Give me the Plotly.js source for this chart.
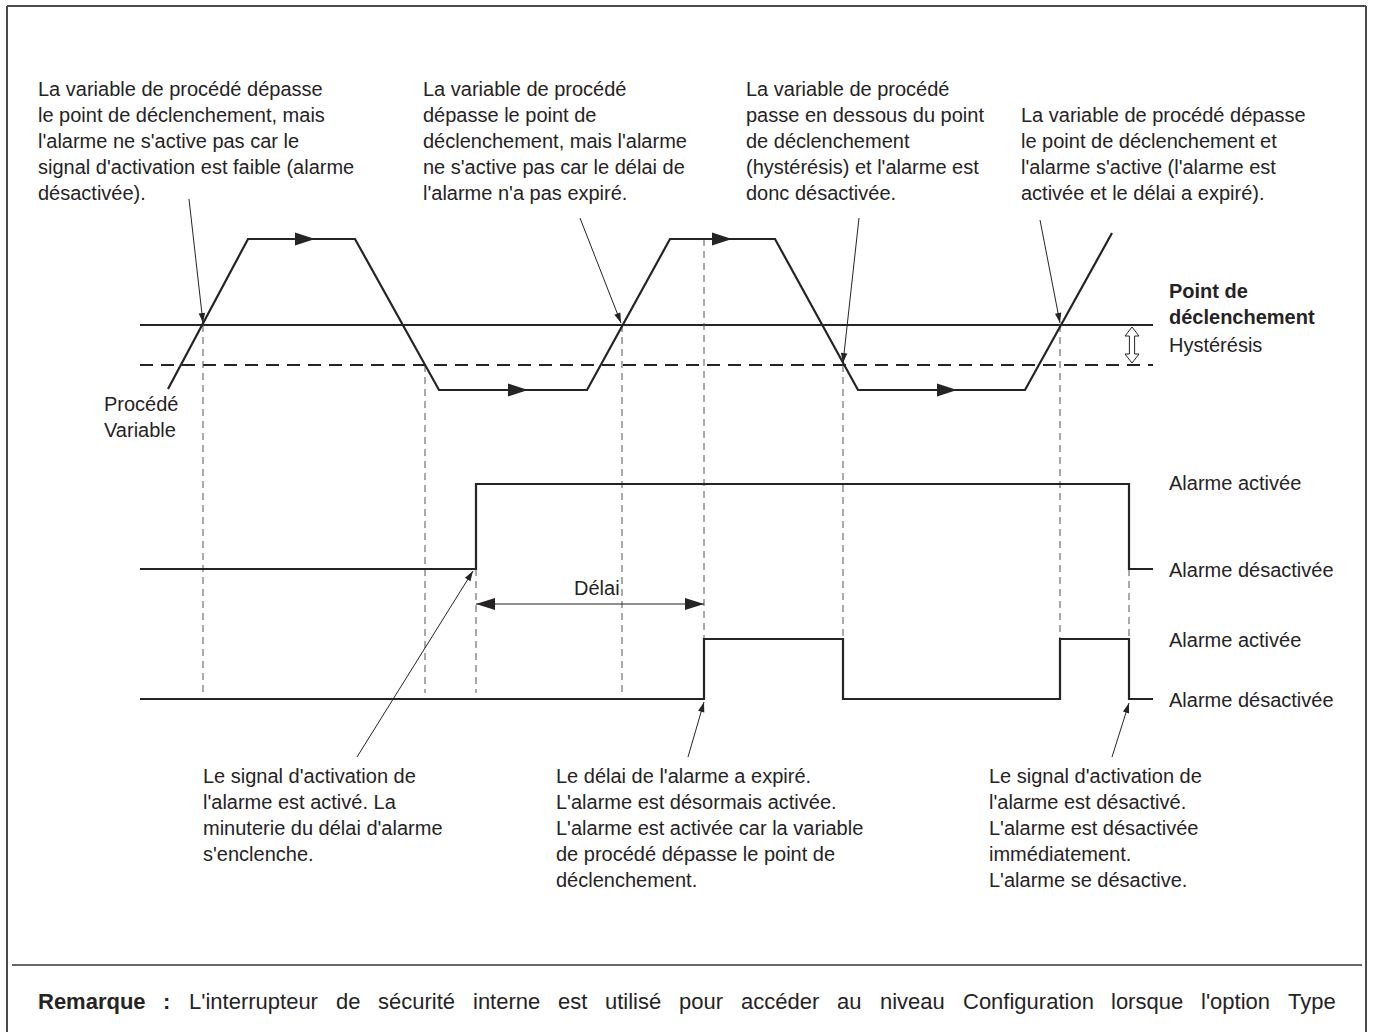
<!DOCTYPE html>
<html>
<head>
<meta charset="utf-8">
<script src="https://cdn.plot.ly/plotly-3.0.1.min.js"></script>
<style>
  html, body { margin: 0; padding: 0; background: #ffffff; }
  #chart { width: 1373px; height: 1032px; }
</style>
</head>
<body>
<div id="chart"></div>
<script>
// ---------------- DATA (diagram units: time along x, level along y) ----------------
// Process variable waveform breakpoints
const pvTime  = [168, 248, 355, 439, 587, 670, 775, 858, 1025, 1112];
const pvLevel = [389, 239, 239, 390, 390, 239, 239, 390, 390, 233];

// Trip point and hysteresis levels
const tripLevel = 325;
const hystLevel = 365;
const levelStart = 140;
const levelEnd = 1153;

// Alarm enable signal (upper digital trace)
const enableTime  = [140, 476, 476, 1129, 1129, 1153];
const enableLevel = [569, 569, 484, 484, 569, 569];

// Alarm output (lower digital trace)
const alarmTime  = [140, 704, 704, 843, 843, 1060, 1060, 1129, 1129, 1153];
const alarmLevel = [699, 699, 639, 639, 699, 699, 639, 639, 699, 699];

// Event guide lines (dashed verticals): time, from level, to level
const guideTime = [203, 425, 476, 622, 704, 843, 1060, 1129];
const guideFrom = [325, 365, 569, 325, 239, 365, 325, 569];
const guideTo   = [693, 693, 693, 693, 639, 639, 639, 639];

// Direction arrows on plateaus (tip time, level)
const dirTipTime  = [315, 528, 732, 957];
const dirTipLevel = [239, 390, 239, 390];

// Delay span
const delayStart = 476;
const delayEnd = 704;
const delayLevel = 604;

// Callouts: text anchor point -> target point
const calloutFromX = [189, 580, 859, 1040, 357, 688, 1112];
const calloutFromY = [199, 218, 218, 220, 757, 757, 757];
const calloutToX   = [203, 621, 843, 1060, 473, 704, 1129];
const calloutToY   = [323, 323, 363, 323, 571, 702, 703];

// Texts
const topNotes = [
  "La variable de procédé dépasse<br>le point de déclenchement, mais<br>l'alarme ne s'active pas car le<br>signal d'activation est faible (alarme<br>désactivée).",
  "La variable de procédé<br>dépasse le point de<br>déclenchement, mais l'alarme<br>ne s'active pas car le délai de<br>l'alarme n'a pas expiré.",
  "La variable de procédé<br>passe en dessous du point<br>de déclenchement<br>(hystérésis) et l'alarme est<br>donc désactivée.",
  "La variable de procédé dépasse<br>le point de déclenchement et<br>l'alarme s'active (l'alarme est<br>activée et le délai a expiré)."
];
const bottomNotes = [
  "Le signal d'activation de<br>l'alarme est activé. La<br>minuterie du délai d'alarme<br>s'enclenche.",
  "Le délai de l'alarme a expiré.<br>L'alarme est désormais activée.<br>L'alarme est activée car la variable<br>de procédé dépasse le point de<br>déclenchement.",
  "Le signal d'activation de<br>l'alarme est désactivé.<br>L'alarme est désactivée<br>immédiatement.<br>L'alarme se désactive."
];
const stateLabels = ["Alarme activée", "Alarme désactivée", "Alarme activée", "Alarme désactivée"];
const tripLabel = "<b>Point de<br>déclenchement</b>";
const hystLabel = "Hystérésis";
const pvLabel = "Procédé<br>Variable";
const delayLabel = "Délai";
const footBold = "Remarque :";
const footNote = "L'interrupteur de sécurité interne est utilisé pour accéder au niveau Configuration lorsque l'option Type";

// ---------------- STYLE ----------------
const INK = '#262324';
const FONT = 'Liberation Sans, Arial, Helvetica, sans-serif';
const FS = 20;
const LH = 26;
const FOOT_FS = 22;

// ---------------- BUILD ----------------
const traces = [];
function line(x, y, w, color, dash) {
  traces.push({
    type: 'scatter', mode: 'lines', x: x, y: y,
    line: { color: color, width: w, dash: dash || 'solid' },
    hoverinfo: 'skip', showlegend: false
  });
}

// trip + hysteresis levels
line([levelStart, levelEnd], [tripLevel, tripLevel], 2, INK);
line([levelStart, levelEnd], [hystLevel, hystLevel], 2, INK, '13px,8px');

// guide lines
const gx = [], gy = [];
guideTime.forEach((t, i) => { gx.push(t, t, null); gy.push(guideFrom[i], guideTo[i], null); });
traces.push({
  type: 'scatter', mode: 'lines', x: gx, y: gy, connectgaps: false,
  line: { color: '#555555', width: 1, dash: '7px,5px' },
  hoverinfo: 'skip', showlegend: false
});

// waveforms
line(pvTime, pvLevel, 2.2, INK);
line(enableTime, enableLevel, 2.2, INK);
line(alarmTime, alarmLevel, 2.2, INK);

// delay span line
line([delayStart, delayEnd], [delayLevel, delayLevel], 1.2, INK);

// callout lines
calloutFromX.forEach((fx, i) => {
  line([fx, calloutToX[i]], [calloutFromY[i], calloutToY[i]], 1, INK);
});

// arrowheads as filled paths
const shapes = [];
function head(tx, ty, fx, fy, len, half) {
  const dx = tx - fx, dy = ty - fy;
  const L = Math.hypot(dx, dy);
  const ux = dx / L, uy = dy / L;
  const bx = tx - ux * len, by = ty - uy * len;
  const px = -uy, py = ux;
  shapes.push({
    type: 'path', xref: 'x', yref: 'y',
    path: `M${tx},${ty} L${bx + px * half},${by + py * half} L${bx - px * half},${by - py * half} Z`,
    fillcolor: INK, line: { width: 0 }
  });
}
dirTipTime.forEach((t, i) => head(t, dirTipLevel[i], t - 10, dirTipLevel[i], 20, 6.5));
head(delayStart, delayLevel, delayStart + 10, delayLevel, 19, 6);
head(delayEnd, delayLevel, delayEnd - 10, delayLevel, 19, 6);
calloutFromX.forEach((fx, i) => head(calloutToX[i], calloutToY[i], fx, calloutFromY[i], 10, 3.2));

// hysteresis hollow double arrow
(function () {
  const cx = 1132, top = tripLevel + 2, bot = hystLevel - 2, hw = 7, hl = 9, sw = 2.6;
  shapes.push({
    type: 'path', xref: 'x', yref: 'y',
    path: `M${cx},${top} L${cx + hw},${top + hl} L${cx + sw},${top + hl} L${cx + sw},${bot - hl} L${cx + hw},${bot - hl} L${cx},${bot} L${cx - hw},${bot - hl} L${cx - sw},${bot - hl} L${cx - sw},${top + hl} L${cx - hw},${top + hl} Z`,
    fillcolor: '#ffffff', line: { color: INK, width: 1 }
  });
})();

// frame
const FRAME = '#4a4a4a';
shapes.push({ type: 'line', xref: 'x', yref: 'y', x0: 7, x1: 1366, y0: 6, y1: 6, line: { color: FRAME, width: 2 } });
shapes.push({ type: 'line', xref: 'x', yref: 'y', x0: 7, x1: 7, y0: 6, y1: 1040, line: { color: FRAME, width: 2 } });
shapes.push({ type: 'line', xref: 'x', yref: 'y', x0: 1366, x1: 1366, y0: 6, y1: 1040, line: { color: FRAME, width: 2 } });
shapes.push({ type: 'line', xref: 'x', yref: 'y', x0: 12, x1: 1362, y0: 965, y1: 965, line: { color: '#333333', width: 1.6 } });

// annotations
const ann = [];
function txt(text, x, yCenter, anchor, size, extra) {
  ann.push(Object.assign({
    text: text, x: x, y: yCenter, xref: 'x', yref: 'y',
    xanchor: anchor || 'left', yanchor: 'middle', align: anchor === 'center' ? 'center' : 'left',
    showarrow: false, borderpad: 0,
    font: { family: FONT, size: size || FS, color: INK }
  }, extra || {}));
}
function nLines(s) { return s.split('<br>').length; }
const topX = [37, 422, 745, 1020];
topNotes.forEach((s, i) => {
  const n = nLines(s);
  const last = 193;
  const first = last - (n - 1) * LH;
  txt(s, topX[i], (first + last) / 2);
});
const botX = [202, 555, 988];
bottomNotes.forEach((s, i) => {
  const n = nLines(s);
  const first = 776;
  txt(s, botX[i], first + (n - 1) * LH / 2);
});
const stateY = [483, 570, 640, 700];
stateLabels.forEach((s, i) => txt(s, 1168, stateY[i]));
txt(tripLabel, 1168, 304);
txt(hystLabel, 1168, 345);
txt(pvLabel, 103, 417);
txt(delayLabel, 597, 588, 'center');

// footnote, justified between left and right margins
(function () {
  const left = 37, right = 1335, yMid = 1001;
  const ctx = document.createElement('canvas').getContext('2d');
  const words = [];
  footBold.split(' ').forEach(w => words.push({ t: w, b: true }));
  footNote.split(' ').forEach(w => words.push({ t: w, b: false }));
  let total = 0;
  words.forEach(w => {
    ctx.font = (w.b ? 'bold ' : '') + FOOT_FS + 'px "Liberation Sans", Arial, sans-serif';
    w.w = ctx.measureText(w.t).width;
    total += w.w;
  });
  const gap = (right - left - total) / (words.length - 1);
  let x = left;
  words.forEach(w => {
    txt(w.b ? '<b>' + w.t + '</b>' : w.t, x, yMid, 'left', FOOT_FS);
    x += w.w + gap;
  });
})();

const layout = {
  width: 1373, height: 1032,
  margin: { l: 0, r: 0, t: 0, b: 0, pad: 0 },
  paper_bgcolor: '#ffffff', plot_bgcolor: '#ffffff',
  xaxis: { range: [0, 1373], visible: false, showgrid: false, zeroline: false, fixedrange: true },
  yaxis: { range: [1032, 0], visible: false, showgrid: false, zeroline: false, fixedrange: true },
  shapes: shapes,
  annotations: ann,
  showlegend: false,
  hovermode: false
};

Plotly.newPlot('chart', traces, layout, { displayModeBar: false, staticPlot: true });
</script>
</body>
</html>
